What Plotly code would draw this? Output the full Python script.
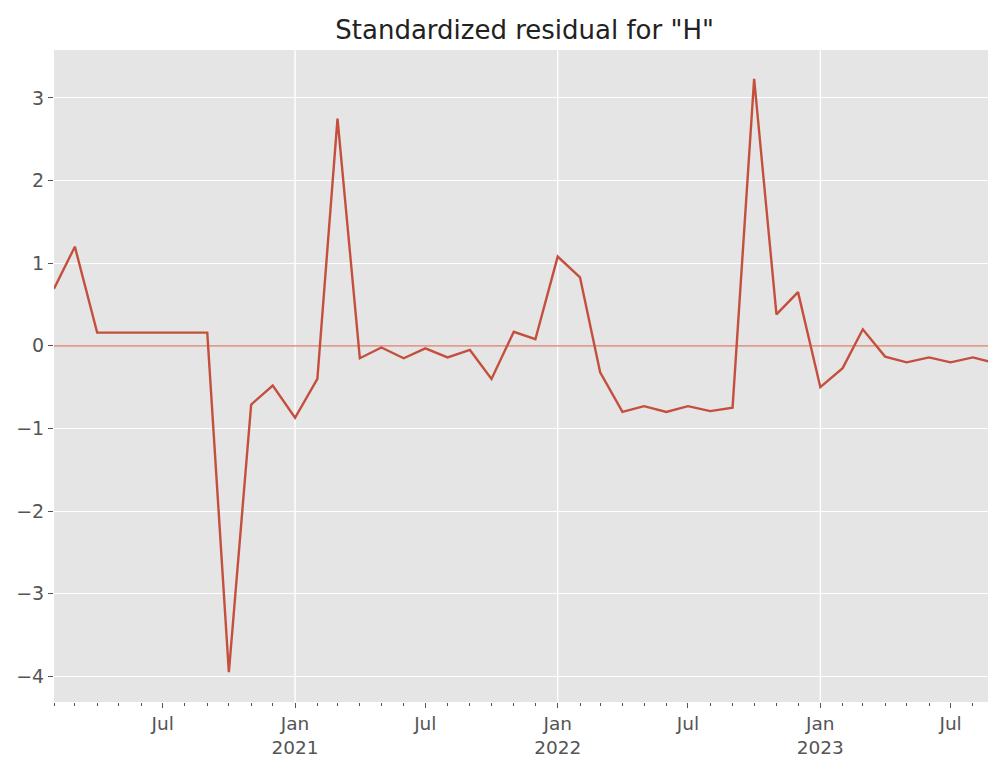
import pandas as pd
import plotly.graph_objects as go

# Monthly observation dates (month starts)
months = pd.date_range("2020-02-01", "2023-09-01", freq="MS")

# Standardized residual values
residual_2020 = [0.69, 1.20, 0.16, 0.16, 0.16, 0.16, 0.16, 0.16, -3.95, -0.71, -0.48]
residual_2021 = [-0.87, -0.40, 2.75, -0.15, -0.02, -0.15, -0.03, -0.14, -0.05, -0.40, 0.17, 0.08]
residual_2022 = [1.08, 0.83, -0.32, -0.80, -0.73, -0.80, -0.73, -0.79, -0.75, 3.23, 0.38, 0.65]
residual_2023 = [-0.50, -0.27, 0.20, -0.13, -0.20, -0.14, -0.20, -0.14, -0.21]
residuals = residual_2020 + residual_2021 + residual_2022 + residual_2023

# Tick labels
xtick_dates = ["2020-07-01", "2021-01-01", "2021-07-01", "2022-01-01",
               "2022-07-01", "2023-01-01", "2023-07-01"]
xtick_text = ["Jul", "Jan<br>2021", "Jul", "Jan<br>2022", "Jul", "Jan<br>2023", "Jul"]
year_starts = ["2021-01-01", "2022-01-01", "2023-01-01"]
ytick_vals = [-4, -3, -2, -1, 0, 1, 2, 3]
reference_level = 0

title_text = 'Standardized residual for "H"'

LINE = "#C44F3D"
TICK_GREY = "#555555"

fig = go.Figure()
# horizontal reference line at zero, spanning the whole series
fig.add_trace(go.Scatter(
    x=[months[0], months[-1]], y=[reference_level, reference_level], mode="lines",
    line=dict(color="#DB7A67", width=1.3),
    showlegend=False, hoverinfo="skip",
))
fig.add_trace(go.Scatter(
    x=months, y=residuals, mode="lines",
    line=dict(color=LINE, width=2.4),
    showlegend=False,
))

for d in year_starts:
    fig.add_shape(type="line", xref="x", yref="paper", x0=d, x1=d, y0=0, y1=1,
                  line=dict(color="white", width=1.4), layer="below")

fig.update_layout(
    width=988, height=758,
    margin=dict(l=54, r=0, t=50, b=53),
    paper_bgcolor="white",
    plot_bgcolor="#E5E5E5",
    font=dict(family="DejaVu Sans", color=TICK_GREY, size=19),
    title=dict(text=title_text, x=0.531, xanchor="center", xref="container",
               y=1 - 30 / 758, yref="container", yanchor="middle",
               font=dict(family="DejaVu Sans", size=26, color="#222222")),
    xaxis=dict(
        type="date",
        range=["2020-02-01", "2023-08-22"],
        tickmode="array", tickvals=xtick_dates, ticktext=xtick_text,
        showgrid=False, zeroline=False, showline=False,
        ticks="outside", ticklen=5, tickwidth=1, tickcolor=TICK_GREY,
        tickfont=dict(size=18.5, color=TICK_GREY),
        minor=dict(ticks="outside", ticklen=3, tickwidth=1, tickcolor=TICK_GREY,
                   dtick="M1", tick0="2020-01-01", showgrid=False),
    ),
    yaxis=dict(
        range=[-4.31, 3.58],
        tickmode="array", tickvals=ytick_vals,
        ticktext=[("\u2212" + str(-v)) if v < 0 else str(v) for v in ytick_vals],
        showgrid=True, gridcolor="white", gridwidth=1.4,
        zeroline=False,
        showline=False,
        ticks="outside", ticklen=5, tickwidth=1, tickcolor=TICK_GREY,
        tickfont=dict(size=19, color=TICK_GREY),
    ),
)

fig.write_html(
    "out.html",
    config={"displayModeBar": False},
    post_script="document.body.style.margin='0';document.body.style.overflow='hidden';",
)
